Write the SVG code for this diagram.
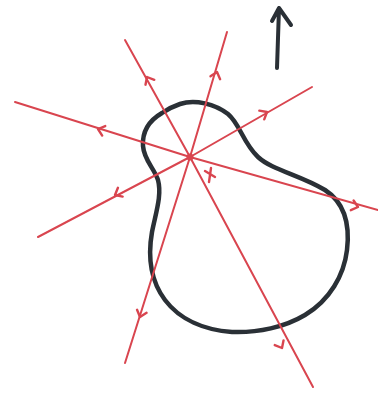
<svg xmlns="http://www.w3.org/2000/svg" xmlns:xlink="http://www.w3.org/1999/xlink" width="378" height="409" viewBox="0 0 378 409">
<style>
.ray{stroke:#d9454f;stroke-width:2;fill:none;stroke-linecap:round}
.chev{stroke:#d9454f;stroke-width:2.4;fill:none;stroke-linecap:round;stroke-linejoin:round}
.blob{stroke:#2a3036;stroke-width:4.5;fill:none;stroke-linejoin:round}
.arr{stroke:#2a3036;stroke-width:4;fill:none;stroke-linecap:round;stroke-linejoin:round}
</style>
<defs>
<path id="chev" class="chev" d="M-6,-5 L0,0 L-6,5"/>
</defs>
<rect width="378" height="409" fill="#ffffff"/>
<g id="blob">
<path class="blob" d="M180,104 C195,99 215,104 228,114 C240,124 243,143 258,157 C272,170 300,175 325,190 C345,203 350,225 347,250 C344,275 330,300 305,315 C285,327 258,333 232,332 C205,330 180,320 165,300 C150,280 148,255 152,232 C156,212 162,195 158,180 C154,168 144,160 143,146 C142,130 150,120 162,113 C168,109 174,106 180,104 Z"/>
</g>
<g id="connectors">
<path class="ray" d="M190,157 L125,40 M190,157 L313,387"/>
<path class="ray" d="M190,157 L227,32 M190,157 L125,363"/>
<path class="ray" d="M190,157 L15,102 M190,157 L378,210"/>
<path class="ray" d="M190,157 L312,87 M190,157 L38,237"/>
<use xlink:href="#chev" transform="translate(147,77) rotate(-118.8)"/>
<use xlink:href="#chev" transform="translate(282,348) rotate(61.8)"/>
<use xlink:href="#chev" transform="translate(217,72) rotate(-73.6)"/>
<use xlink:href="#chev" transform="translate(140,317) rotate(107.6)"/>
<use xlink:href="#chev" transform="translate(98,129) rotate(-162.3)"/>
<use xlink:href="#chev" transform="translate(358,207) rotate(16)"/>
<use xlink:href="#chev" transform="translate(267,112) rotate(-29.5)"/>
<use xlink:href="#chev" transform="translate(115,195) rotate(151.9)"/>
</g>
<g id="center">
<circle cx="190" cy="157" r="3.5" fill="#d9454f"/>
<path class="chev" d="M205,171 L215,177 M211,168 L209,182"/>
</g>
<g id="north">
<path class="arr" d="M277,68 L279,8 M272,21 L279,8 L291,25"/>
</g>
</svg>
